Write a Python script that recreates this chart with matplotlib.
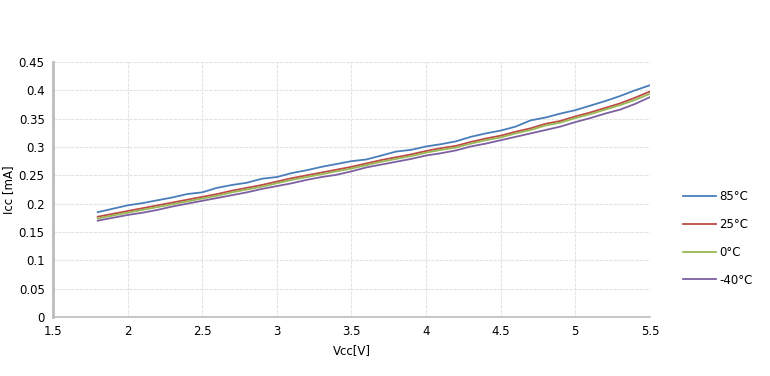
import matplotlib
matplotlib.use("Agg")
import matplotlib.pyplot as plt

# Dữ liệu
vcc = [round(1.8 + 0.1 * i, 1) for i in range(38)]
icc_85 = [0.185, 0.191, 0.197, 0.201, 0.206, 0.211, 0.217, 0.220, 0.228, 0.233,
          0.237, 0.244, 0.247, 0.254, 0.259, 0.265, 0.270, 0.275, 0.278, 0.285,
          0.292, 0.295, 0.301, 0.305, 0.310, 0.318, 0.324, 0.329, 0.336, 0.347,
          0.352, 0.359, 0.365, 0.373, 0.381, 0.390, 0.400, 0.409]
icc_25 = [0.177, 0.182, 0.187, 0.192, 0.197, 0.202, 0.207, 0.212, 0.217, 0.223,
          0.228, 0.233, 0.239, 0.245, 0.250, 0.255, 0.260, 0.265, 0.271, 0.277,
          0.282, 0.287, 0.293, 0.298, 0.302, 0.309, 0.315, 0.320, 0.327, 0.333,
          0.341, 0.346, 0.354, 0.361, 0.369, 0.377, 0.387, 0.398]
icc_0 = [0.174, 0.179, 0.184, 0.189, 0.194, 0.199, 0.204, 0.209, 0.214, 0.220,
         0.225, 0.230, 0.236, 0.242, 0.247, 0.252, 0.257, 0.262, 0.268, 0.274,
         0.279, 0.284, 0.290, 0.295, 0.299, 0.306, 0.312, 0.317, 0.324, 0.330,
         0.338, 0.343, 0.351, 0.358, 0.366, 0.374, 0.383, 0.394]
icc_m40 = [0.170, 0.175, 0.180, 0.184, 0.189, 0.195, 0.200, 0.205, 0.210, 0.215,
           0.220, 0.226, 0.231, 0.236, 0.242, 0.247, 0.251, 0.257, 0.264, 0.269,
           0.274, 0.279, 0.285, 0.289, 0.294, 0.301, 0.306, 0.312, 0.318, 0.324,
           0.330, 0.336, 0.344, 0.351, 0.359, 0.366, 0.376, 0.388]
labels = ["85°C", "25°C", "0°C", "-40°C"]
colors = ["#4a7ebb", "#be4b48", "#98b954", "#7d60a0"]

fig = plt.figure(figsize=(7.7, 3.76), dpi=100)
ax = fig.add_axes([0.0688, 0.157, 0.7752, 0.678])

for ys, lab, c in zip([icc_85, icc_25, icc_0, icc_m40], labels, colors):
    ax.plot(vcc, ys, color=c, lw=1.3, label=lab)

ax.set_xlim(1.5, 5.5)
ax.set_ylim(0, 0.45)
ax.set_xticks([1.5, 2, 2.5, 3, 3.5, 4, 4.5, 5, 5.5])
ax.set_xticklabels(["1.5", "2", "2.5", "3", "3.5", "4", "4.5", "5", "5.5"])
ax.set_yticks([0, 0.05, 0.1, 0.15, 0.2, 0.25, 0.3, 0.35, 0.4, 0.45])
ax.set_yticklabels(["0", "0.05", "0.1", "0.15", "0.2", "0.25", "0.3", "0.35", "0.4", "0.45"])
ax.tick_params(length=0, labelsize=8.5, pad=6)
ax.grid(True, color="#e4e4e4", lw=0.8, ls=(0, (3, 1)))
ax.set_axisbelow(True)
for s in ["top", "right"]:
    ax.spines[s].set_visible(False)
ax.spines["left"].set_color("#bdbdbd")
ax.spines["left"].set_linewidth(2)
ax.spines["bottom"].set_color("#bdbdbd")
ax.spines["bottom"].set_linewidth(1.2)

ax.set_xlabel("Vcc[V]", fontsize=8.5, labelpad=4)
ax.set_ylabel("Icc [mA]", fontsize=8.5)
ax.yaxis.set_label_coords(-0.064, 0.5)

fig.legend(loc="upper left", bbox_to_anchor=(0.873, 0.522), frameon=False,
           fontsize=8.5, handlelength=2.8, handletextpad=0.3, labelspacing=1.25)

fig.savefig("out.png", dpi=100)
